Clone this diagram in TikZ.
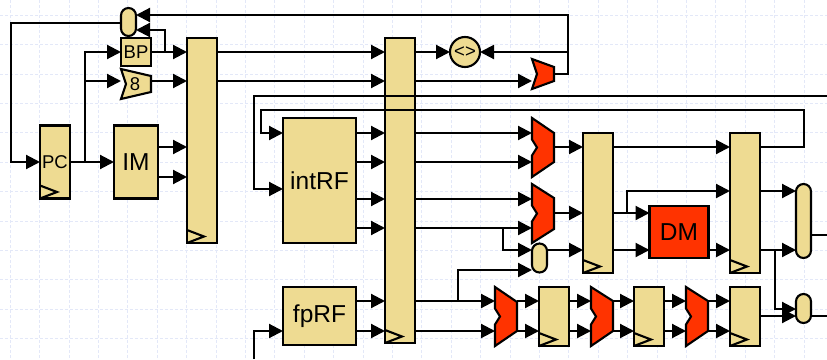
\documentclass[tikz,border=0pt]{standalone}
\usepackage{fontspec}
\setmainfont{Liberation Sans}
\usetikzlibrary{arrows.meta}
\definecolor{stagefill}{HTML}{EEDB92}
\definecolor{hotred}{HTML}{FF3300}
\definecolor{gridblue}{HTML}{E3E8F8}
\tikzset{
  stage/.style={rectangle, draw=black, fill=stagefill, line width=2.1pt, inner sep=0pt, outer sep=0pt, font=\fontsize{24.5}{24.5}\selectfont},
  smalltext/.style={font=\fontsize{18.5}{18.5}\selectfont},
  pill/.style={stage, rounded corners=7.5pt, minimum width=15pt},
  bus/.style={line width=2.1pt},
  wire/.style={bus, -{Triangle[length=14pt,width=14pt]}},
  gridline/.style={gridblue, line width=0.6pt, densely dashed}
}
\begin{document}
\begin{tikzpicture}[x=1pt, y=-1pt]
  \useasboundingbox (0,0) rectangle (827,359);
  \foreach \k in {0,...,27} \draw[gridline] ({10+29.4*\k},0) -- ({10+29.4*\k},359);
  \foreach \k in {0,...,11} \draw[gridline] (0,{15+29.4*\k}) -- (827,{15+29.4*\k});

  % pipeline registers
  \node[stage, minimum width=30pt, minimum height=73pt]  (pc)    at (55,162)    {};
  \node[stage, minimum width=30pt, minimum height=205pt] (ifid)  at (202,140.5) {};
  \node[stage, minimum width=30pt, minimum height=305pt] (idex)  at (400,190.5) {};
  \node[stage, minimum width=30pt, minimum height=140pt] (exmem) at (598,203)   {};
  \node[stage, minimum width=30pt, minimum height=140pt] (memwb) at (745,203)   {};
  \node[stage, minimum width=30pt, minimum height=59pt]  (fpa)   at (554,316.5) {};
  \node[stage, minimum width=30pt, minimum height=59pt]  (fpb)   at (649,316.5) {};
  \node[stage, minimum width=30pt, minimum height=59pt]  (fpc)   at (745,316.5) {};
  \foreach \r in {pc,ifid,idex,exmem,memwb,fpa,fpb,fpc}
    \draw[bus] (\r.south west) ++(0,-13) -- ++(17,6.5) -- ++(-17,6.5);
  \node[smalltext] (pctext) at (55,162) {PC};

  % memories and register files
  \node[stage, smalltext, minimum width=30pt, minimum height=28pt] (bp) at (136,52) {BP};
  \node[stage, minimum width=44pt, minimum height=73pt]  (im)    at (136,162) {IM};
  \node[stage, minimum width=73pt, minimum height=125pt] (intrf) at (319.5,180.5) {intRF};
  \node[stage, minimum width=73pt, minimum height=58pt]  (fprf)  at (319.5,316) {fpRF};
  \node[stage, fill=hotred, minimum width=59pt, minimum height=52pt] (dm) at (679,232) {DM};

  % gates
  \node[pill, minimum height=28pt] (predor) at (128.5,22)  {};
  \node[pill, minimum height=29pt] (andg)   at (539.5,258) {};
  \node[pill, minimum height=74pt] (wbmux)  at (803.5,221) {};
  \node[pill, minimum height=29pt] (fpmux)  at (803.5,308.5) {};
  \node[stage, smalltext, circle, minimum size=30pt] (cmp) at (465,52) {<>};

  % adders and alus
  \foreach \nm/\xl/\xr/\yt/\yb/\rt/\rb/\nh/\col in {
      addp/121/151/69/99/76/92/15/stagefill, addr/532/554/59/89/67/81/15/hotred,
      alua/532/554/118/177/133/162/8/hotred, alub/532/554/184/243/198/229/8/hotred,
      fpxa/495/517/287/346/302/331/8/hotred, fpxb/591/613/287/346/301/331/8/hotred,
      fpxc/686/708/287/346/301/331/8/hotred} {
    \node[inner sep=0pt, outer sep=0pt, minimum width={\xr-\xl}, minimum height={\yb-\yt}] (\nm) at ({(\xl+\xr)/2},{(\yt+\yb)/2}) {};
    \draw[bus, fill=\col] (\xl,\yt) -- (\xr,\rt) -- (\xr,\rb) -- (\xl,\yb) -- (\xl,{(\yt+\yb)/2+\nh})
      -- ({\xl+5},{(\yt+\yb)/2}) -- (\xl,{(\yt+\yb)/2-\nh}) -- cycle;
  }
  \node[smalltext] (eight) at (135,84) {8};

  \coordinate (toprail)  at (568,15);
  \coordinate (backrail) at (11,23);
  \coordinate (bpfork)   at (165,52);
  \coordinate (pcfork)   at (85,162);
  \coordinate (rfrail)   at (254,96);
  \coordinate (wbrail)   at (804,110);
  \coordinate (bprail)   at (261,110);
  \coordinate (edge)     at (827,0);
  \coordinate (lowedge)  at (254,359);

  % fetch
  \draw[wire] (addr.east) -| (toprail) -- (predor.east |- toprail);
  \draw[wire] (toprail |- cmp) -- (cmp.east);
  \draw[wire] (predor.west |- backrail) -- (backrail) |- (pc.west);
  \draw[wire] (bp.east) -- (ifid.west |- bp);
  \draw[wire] (bpfork) |- (predor.east |- 0,30);
  \draw[wire] (pc.east) -- (im.west);
  \draw[wire] (pcfork) |- (bp.west);
  \draw[wire] (pcfork |- 0,81) -- (addp.west |- 0,81);
  \draw[wire] (addp.east |- 0,81) -- (ifid.west |- 0,81);
  \foreach \y in {147,177} \draw[wire] (im.east |- 0,\y) -- (ifid.west |- 0,\y);

  % decode
  \foreach \y in {52,81} \draw[wire] (ifid.east |- 0,\y) -- (idex.west |- 0,\y);
  \draw[wire] (idex.east |- cmp) -- (cmp.west);
  \draw[wire] (idex.east |- 0,81) -- (addr.west |- 0,81);
  \draw[wire] (edge |- rfrail) -- (rfrail) |- (intrf.west |- 0,189);
  \draw[wire] (memwb.east |- 0,147) -| (wbrail) -- (bprail) |- (intrf.west |- 0,133);
  \draw[wire] (lowedge) |- (fprf.west |- 0,331);
  \foreach \y in {133,162,199,228} \draw[wire] (intrf.east |- 0,\y) -- (idex.west |- 0,\y);
  \foreach \y in {301,331} \draw[wire] (fprf.east |- 0,\y) -- (idex.west |- 0,\y);

  % execute
  \foreach \y in {133,162} \draw[wire] (idex.east |- 0,\y) -- (alua.west |- 0,\y);
  \foreach \y in {199,228} \draw[wire] (idex.east |- 0,\y) -- (alub.west |- 0,\y);
  \draw[wire] (503,228) |- (andg.west |- 0,250);
  \draw[wire] (458,301) |- (andg.west |- 0,270);
  \foreach \y in {301,331} {
    \draw[wire] (idex.east |- 0,\y) -- (fpxa.west |- 0,\y);
    \draw[wire] (fpxa.east |- 0,\y) -- (fpa.west |- 0,\y);
    \draw[wire] (fpa.east |- 0,\y) -- (fpxb.west |- 0,\y);
    \draw[wire] (fpxb.east |- 0,\y) -- (fpb.west |- 0,\y);
    \draw[wire] (fpb.east |- 0,\y) -- (fpxc.west |- 0,\y);
    \draw[wire] (fpxc.east |- 0,\y) -- (fpc.west |- 0,\y);
  }
  \draw[wire] (alua.east |- 0,147) -- (exmem.west |- 0,147);
  \draw[wire] (alub.east |- 0,213) -- (exmem.west |- 0,213);
  \draw[wire] (andg.east |- 0,250) -- (exmem.west |- 0,250);

  % memory and write back
  \draw[wire] (exmem.east |- 0,147) -- (memwb.west |- 0,147);
  \draw[wire] (exmem.east |- 0,213) -- (dm.west |- 0,213);
  \draw[wire] (627,213) |- (memwb.west |- 0,191);
  \draw[wire] (exmem.east |- 0,250) -- (dm.west |- 0,250);
  \draw[wire] (dm.east |- 0,250) -- (memwb.west |- 0,250);
  \draw[wire] (memwb.east |- 0,191) -- (wbmux.west |- 0,191);
  \draw[wire] (memwb.east |- 0,250) -- (wbmux.west |- 0,250);
  \draw[wire] (775,250) |- (fpmux.west |- 0,309);
  \draw[wire] (fpc.east |- 0,316) -- (fpmux.west |- 0,316);
  \draw[bus] (wbmux.east |- 0,235) -- (edge |- 0,235);
  \draw[bus] (fpmux.east |- 0,316) -- (edge |- 0,316);
\end{tikzpicture}
\end{document}
